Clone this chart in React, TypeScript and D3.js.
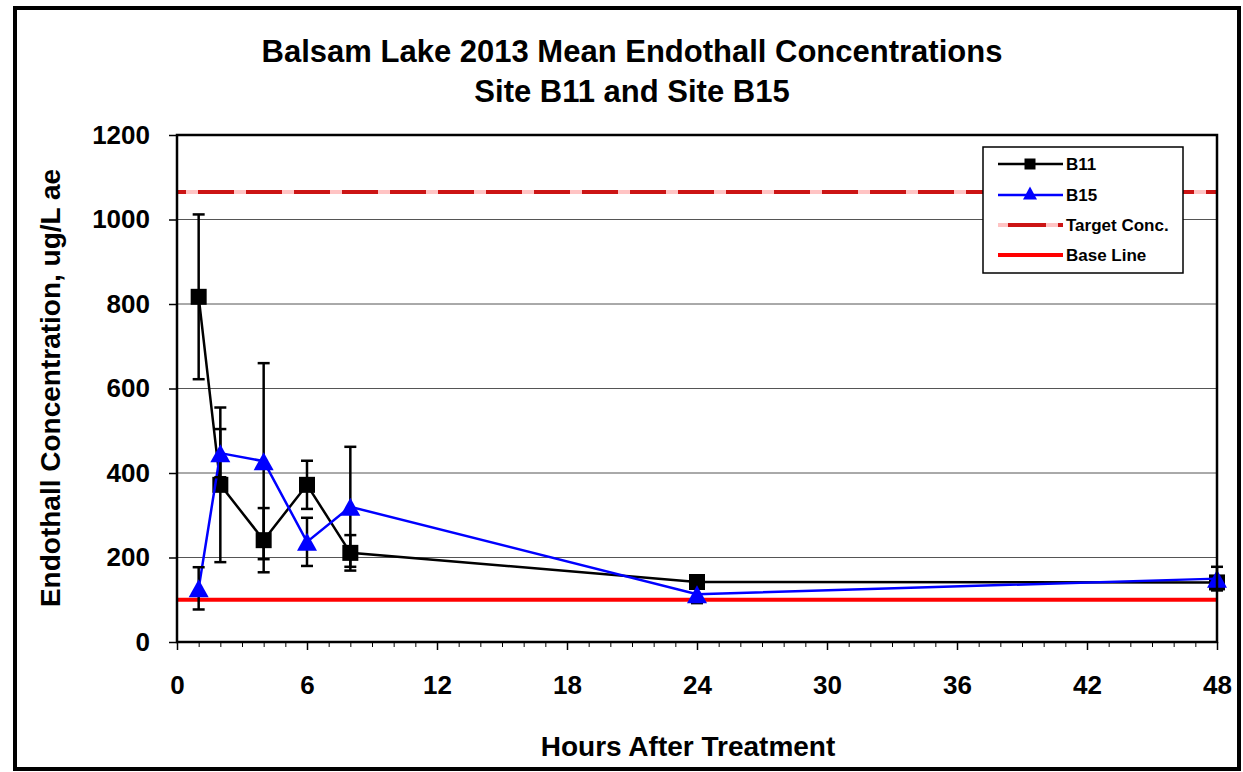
import React, { useEffect, useRef } from "react";
import * as d3 from "d3";

// hours after treatment
const hours = [1, 2, 4, 6, 8, 24, 48];
// site B11 means and error (+/-)
const b11Mean = [817, 372, 241, 372, 211, 142, 141];
const b11Err = [195, 183, 76, 57, 42, 4, 4];
// site B15 means and error (+/-)
const b15Mean = [127, 447, 428, 237, 320, 113, 150];
const b15Err = [50, 57, 232, 57, 142, 21, 28];

const targetConc = 1065;
const baseLine = 100;

const xTicks = [0, 6, 12, 18, 24, 30, 36, 42, 48];
const yTicks = [0, 200, 400, 600, 800, 1000, 1200];

const W = 1243;
const H = 772;
const plot = { left: 177, right: 1217, top: 135, bottom: 642 };
const FONT = "'Liberation Sans', Arial, sans-serif";

function trianglePath(cx: number, cy: number, w: number, h: number) {
  return `M${cx},${cy - h / 2}L${cx + w / 2},${cy + h / 2}L${cx - w / 2},${cy + h / 2}Z`;
}

export default function App() {
  const svgRef = useRef<SVGSVGElement>(null);

  useEffect(() => {
    const svg = d3.select(svgRef.current);
    svg.selectAll("*").remove();

    const x = d3.scaleLinear().domain([0, 48]).range([plot.left, plot.right]);
    const y = d3.scaleLinear().domain([0, 1200]).range([plot.bottom, plot.top]);

    // outer frame
    svg.append("rect")
      .attr("x", 15).attr("y", 8)
      .attr("width", 1224).attr("height", 761)
      .attr("fill", "white")
      .attr("stroke", "black")
      .attr("stroke-width", 4);

    // title
    const title = svg.append("g")
      .attr("font-family", FONT)
      .attr("font-weight", "bold")
      .attr("font-size", 31)
      .attr("text-anchor", "middle");
    title.append("text").attr("x", 632).attr("y", 62)
      .text("Balsam Lake 2013 Mean Endothall Concentrations");
    title.append("text").attr("x", 632).attr("y", 102)
      .text("Site B11 and Site B15");

    // gridlines
    svg.append("g")
      .selectAll("line")
      .data(yTicks.filter(d => d > 0 && d < 1200))
      .enter().append("line")
      .attr("x1", plot.left).attr("x2", plot.right)
      .attr("y1", d => y(d)).attr("y2", d => y(d))
      .attr("stroke", "#555")
      .attr("stroke-width", 1);

    // x axis: minor + major ticks
    const xMinor = svg.append("g")
      .attr("transform", `translate(0,${plot.bottom})`)
      .call(d3.axisBottom(x).tickValues(d3.range(0, 49, 1)).tickSize(5).tickFormat(() => ""));
    xMinor.select(".domain").remove();
    xMinor.selectAll("line").attr("stroke", "#000").attr("stroke-width", 1);

    const xAxis = svg.append("g")
      .attr("transform", `translate(0,${plot.bottom})`)
      .call(d3.axisBottom(x).tickValues(xTicks).tickSize(8).tickPadding(26).tickFormat(d3.format("d")));
    xAxis.select(".domain").remove();
    xAxis.selectAll("line").attr("stroke", "#000").attr("stroke-width", 1.5);
    xAxis.selectAll("text")
      .attr("font-family", FONT).attr("font-weight", "bold")
      .attr("font-size", 26).attr("fill", "#000");

    // y axis
    const yAxis = svg.append("g")
      .attr("transform", `translate(${plot.left},0)`)
      .call(d3.axisLeft(y).tickValues(yTicks).tickSize(8).tickPadding(19).tickFormat(d3.format("d")));
    yAxis.select(".domain").remove();
    yAxis.selectAll("line").attr("stroke", "#000").attr("stroke-width", 1.5);
    yAxis.selectAll("text")
      .attr("font-family", FONT).attr("font-weight", "bold")
      .attr("font-size", 26).attr("fill", "#000");

    // axis titles
    svg.append("text")
      .attr("x", 688).attr("y", 756)
      .attr("text-anchor", "middle")
      .attr("font-family", FONT).attr("font-weight", "bold").attr("font-size", 28)
      .text("Hours After Treatment");
    svg.append("text")
      .attr("transform", `translate(60,388) rotate(-90)`)
      .attr("text-anchor", "middle")
      .attr("font-family", FONT).attr("font-weight", "bold").attr("font-size", 28)
      .text("Endothall Concentration, ug/L ae");

    // target conc. (dashed, pink under dark red)
    svg.append("line")
      .attr("x1", plot.left).attr("x2", plot.right)
      .attr("y1", y(targetConc)).attr("y2", y(targetConc))
      .attr("stroke", "#ffc4c4").attr("stroke-width", 4);
    svg.append("line")
      .attr("x1", plot.left).attr("x2", plot.right)
      .attr("y1", y(targetConc)).attr("y2", y(targetConc))
      .attr("stroke", "#cc1414").attr("stroke-width", 4)
      .attr("stroke-dasharray", "36,12")
      .attr("stroke-dashoffset", 27);

    // base line
    svg.append("line")
      .attr("x1", plot.left).attr("x2", plot.right)
      .attr("y1", y(baseLine)).attr("y2", y(baseLine))
      .attr("stroke", "#ff0000").attr("stroke-width", 4);

    const line = d3.line<[number, number]>().x(d => x(d[0])).y(d => y(d[1]));

    function drawSeries(means: number[], errs: number[], color: string, marker: "square" | "triangle") {
      const pts: [number, number][] = hours.map((h, i) => [h, means[i]]);
      const g = svg.append("g");
      g.append("path")
        .attr("d", line(pts))
        .attr("fill", "none")
        .attr("stroke", color)
        .attr("stroke-width", 2.5);

      const eb = g.append("g").attr("stroke", "#000").attr("stroke-width", 2.5);
      hours.forEach((h, i) => {
        const cx = x(h);
        const top = y(means[i] + errs[i]);
        const bot = y(means[i] - errs[i]);
        eb.append("line").attr("x1", cx).attr("x2", cx).attr("y1", top).attr("y2", bot);
        eb.append("line").attr("x1", cx - 6).attr("x2", cx + 6).attr("y1", top).attr("y2", top);
        eb.append("line").attr("x1", cx - 6).attr("x2", cx + 6).attr("y1", bot).attr("y2", bot);
      });

      if (marker === "square") {
        g.selectAll("rect.m")
          .data(pts).enter().append("rect")
          .attr("class", "m")
          .attr("x", d => x(d[0]) - 8).attr("y", d => y(d[1]) - 8)
          .attr("width", 16).attr("height", 16)
          .attr("fill", color);
      } else {
        g.selectAll("path.m")
          .data(pts).enter().append("path")
          .attr("class", "m")
          .attr("d", d => trianglePath(x(d[0]), y(d[1]), 20, 18))
          .attr("fill", color);
      }
    }

    drawSeries(b11Mean, b11Err, "#000000", "square");
    drawSeries(b15Mean, b15Err, "#0000ff", "triangle");

    // plot border
    svg.append("rect")
      .attr("x", plot.left).attr("y", plot.top)
      .attr("width", plot.right - plot.left).attr("height", plot.bottom - plot.top)
      .attr("fill", "none")
      .attr("stroke", "#000")
      .attr("stroke-width", 2.5);

    // legend
    const lg = svg.append("g").attr("transform", "translate(983,147)");
    lg.append("rect")
      .attr("width", 200).attr("height", 126)
      .attr("fill", "white").attr("stroke", "#000").attr("stroke-width", 1.5);
    const items = [
      { label: "B11", dy: 17 },
      { label: "B15", dy: 48 },
      { label: "Target Conc.", dy: 78 },
      { label: "Base Line", dy: 108 },
    ];
    const lx1 = 15, lx2 = 80, mx = 47;
    items.forEach((it, i) => {
      if (i === 0) {
        lg.append("line").attr("x1", lx1).attr("x2", lx2).attr("y1", it.dy).attr("y2", it.dy)
          .attr("stroke", "#000").attr("stroke-width", 2.5);
        lg.append("rect").attr("x", mx - 5.5).attr("y", it.dy - 5.5).attr("width", 11).attr("height", 11).attr("fill", "#000");
      } else if (i === 1) {
        lg.append("line").attr("x1", lx1).attr("x2", lx2).attr("y1", it.dy).attr("y2", it.dy)
          .attr("stroke", "#0000ff").attr("stroke-width", 2.5);
        lg.append("path").attr("d", trianglePath(mx, it.dy - 2, 14, 13)).attr("fill", "#0000ff");
      } else if (i === 2) {
        lg.append("line").attr("x1", lx1).attr("x2", lx2).attr("y1", it.dy).attr("y2", it.dy)
          .attr("stroke", "#ffc4c4").attr("stroke-width", 4);
        lg.append("line").attr("x1", lx1).attr("x2", lx2).attr("y1", it.dy).attr("y2", it.dy)
          .attr("stroke", "#cc1414").attr("stroke-width", 4)
          .attr("stroke-dasharray", "38,12,10,20").attr("stroke-dashoffset", -10);
      } else {
        lg.append("line").attr("x1", lx1).attr("x2", lx2).attr("y1", it.dy).attr("y2", it.dy)
          .attr("stroke", "#ff0000").attr("stroke-width", 4);
      }
      lg.append("text")
        .attr("x", 83).attr("y", it.dy + 6)
        .attr("font-family", FONT).attr("font-weight", "bold").attr("font-size", 17)
        .text(it.label);
    });
  }, []);

  return (
    <svg
      ref={svgRef}
      width={W}
      height={H}
      style={{ position: "absolute", left: 0, top: 0, background: "white" }}
    ></svg>
  );
}
